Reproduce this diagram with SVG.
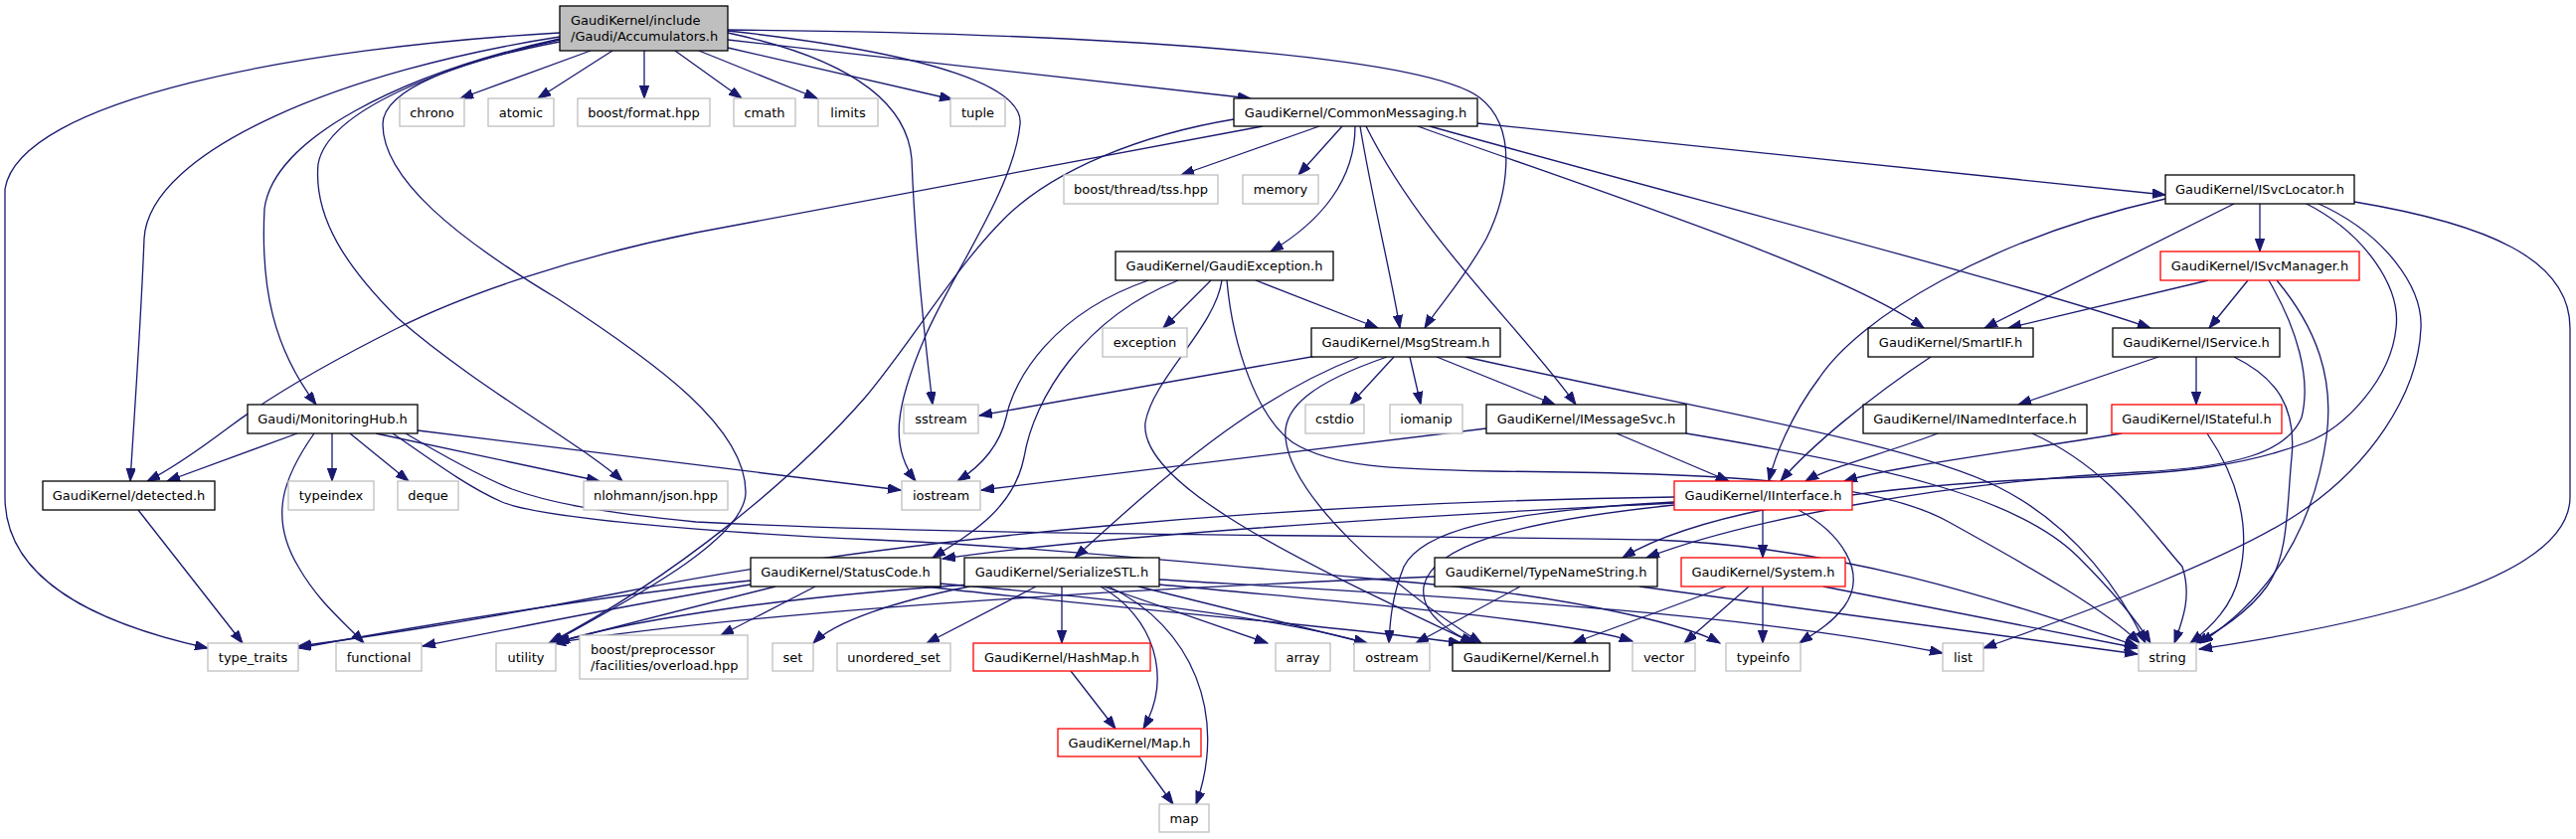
<svg xmlns="http://www.w3.org/2000/svg" width="2591" height="844" viewBox="0 0 2591 844">
<style>
.e{fill:none;stroke:#191970;stroke-width:1.3;marker-end:url(#ah)}
.nk{fill:#fff;stroke:#000;stroke-width:1.3}
.ng{fill:#fff;stroke:#bfbfbf;stroke-width:1.3}
.nr{fill:#fff;stroke:#ff0000;stroke-width:1.3}
.root{fill:#bfbfbf;stroke:#000;stroke-width:1.3}
text{font-family:"DejaVu Sans","Liberation Sans",sans-serif;font-size:13px;fill:#000;text-anchor:middle}
text.l{text-anchor:start}
</style>
<defs>
<marker id="ah" markerUnits="userSpaceOnUse" markerWidth="14" markerHeight="10" refX="13" refY="4.7" orient="auto">
<path d="M0,0 L13,4.7 L0,9.4 z" fill="#191970" stroke="#191970" stroke-width="1"/>
</marker>
</defs>
<rect x="0" y="0" width="2591" height="844" fill="#fff"/>
<g id="edges">
<path class="e" d="M594,51 L463,99"/>
<path class="e" d="M616,51 L541,99"/>
<path class="e" d="M648,51 L648,99"/>
<path class="e" d="M679,51 L746,99"/>
<path class="e" d="M703,51 L822,99"/>
<path class="e" d="M732,48 L958,100"/>
<path class="e" d="M732,40 L1258,99"/>
<path class="e" d="M732,30 C1100,33 1430,55 1488,98 C1530,130 1515,200 1495,240 C1470,285 1445,310 1433,330"/>
<path class="e" d="M732,33 C850,58 912,100 917,160 C920,240 930,340 938,407"/>
<path class="e" d="M732,31 C950,55 1030,90 1026,125 C1020,190 955,280 930,340 C900,410 895,450 921,484"/>
<path class="e" d="M563,42 C460,62 385,90 385,125 C385,180 460,240 560,300 C660,365 750,430 750,495 C750,545 620,610 554,647"/>
<path class="e" d="M563,33 C300,48 20,100 5,190 L5,500 C5,585 100,628 209,652"/>
<path class="e" d="M563,37 C350,70 150,150 145,240 C142,320 135,420 131,484"/>
<path class="e" d="M563,39 C400,75 275,140 266,210 C262,290 275,350 318,407"/>
<path class="e" d="M563,40 C450,65 330,110 320,165 C315,220 350,270 400,320 C480,390 590,450 626,484"/>
<path class="e" d="M1327,127 L1188,176"/>
<path class="e" d="M1350,127 L1306,176"/>
<path class="e" d="M1363,127 C1363,180 1330,222 1278,253"/>
<path class="e" d="M1368,127 C1380,200 1398,270 1408,330"/>
<path class="e" d="M1374,127 C1430,240 1530,330 1585,407"/>
<path class="e" d="M1426,127 C1600,190 1850,270 1935,330"/>
<path class="e" d="M1438,127 C1700,200 2050,290 2163,330"/>
<path class="e" d="M1486,124 L2178,196"/>
<path class="e" d="M1270,127 L700,234 C580,258 470,295 400,330 C320,370 270,400 230,430 C190,460 160,478 148,484"/>
<path class="e" d="M1241,120 C1150,135 1060,170 1010,220 C960,270 920,340 870,400 C800,480 680,580 552,647"/>
<path class="e" d="M2273,205 L2273,253"/>
<path class="e" d="M2247,205 L1996,330"/>
<path class="e" d="M2178,200 C2000,240 1870,320 1830,380 C1800,420 1785,460 1779,484"/>
<path class="e" d="M2318,204 C2380,235 2415,290 2410,330 C2405,380 2360,430 2320,445 C2260,468 2200,475 2100,480 C1850,488 1700,520 1632,561"/>
<path class="e" d="M2330,204 C2400,235 2437,290 2435,330 C2432,400 2380,470 2317,513 C2250,560 2100,615 1995,652"/>
<path class="e" d="M2368,203 C2500,225 2585,260 2585,330 L2585,500 C2585,580 2400,625 2212,653"/>
<path class="e" d="M2221,282 L2020,330"/>
<path class="e" d="M2261,282 L2222,330"/>
<path class="e" d="M2282,282 C2310,330 2325,380 2315,420 C2300,455 2250,470 2150,475 C1950,485 1750,525 1656,561"/>
<path class="e" d="M2290,282 C2330,330 2348,380 2340,440 C2330,510 2300,590 2213,647"/>
<path class="e" d="M2171,359 L2030,407"/>
<path class="e" d="M2209,359 L2209,407"/>
<path class="e" d="M2247,359 C2290,380 2310,410 2305,460 C2300,510 2302,560 2280,590 C2262,615 2232,635 2208,647"/>
<path class="e" d="M1949,436 C1900,455 1840,470 1816,484"/>
<path class="e" d="M2044,436 C2120,470 2160,530 2195,570 C2205,600 2195,625 2187,647"/>
<path class="e" d="M2134,436 C2020,455 1900,470 1855,484"/>
<path class="e" d="M2220,436 C2250,480 2265,530 2252,580 C2245,610 2225,630 2203,647"/>
<path class="e" d="M1942,359 C1880,400 1820,450 1791,484"/>
<path class="e" d="M1495,431 L987,493"/>
<path class="e" d="M1626,436 L1739,484"/>
<path class="e" d="M1696,436 C1900,470 2030,500 2090,560 C2125,595 2150,625 2163,647"/>
<path class="e" d="M1330,357 L985,418"/>
<path class="e" d="M1367,359 C1260,400 1170,480 1081,561"/>
<path class="e" d="M1402,359 L1358,407"/>
<path class="e" d="M1418,359 L1429,407"/>
<path class="e" d="M1445,359 L1564,407"/>
<path class="e" d="M1474,359 C1700,410 1920,445 2010,490 C2090,530 2135,600 2158,647"/>
<path class="e" d="M1395,359 C1320,385 1290,410 1293,440 C1298,500 1400,590 1490,647"/>
<path class="e" d="M1155,282 C1060,315 1020,380 1012,420 C1005,450 985,470 963,484"/>
<path class="e" d="M1185,282 C1090,320 1040,400 1030,460 C1020,510 980,535 938,561"/>
<path class="e" d="M1218,282 L1170,330"/>
<path class="e" d="M1229,282 C1222,330 1160,380 1152,425 C1145,490 1320,570 1482,647"/>
<path class="e" d="M1234,282 C1240,350 1265,420 1300,445 C1340,470 1400,472 1500,474 C1700,476 1880,480 1960,525 C2050,575 2120,615 2152,647"/>
<path class="e" d="M1263,282 L1386,330"/>
<path class="e" d="M1773,513 L1773,561"/>
<path class="e" d="M1684,506 C1400,520 1100,540 948,562"/>
<path class="e" d="M1684,500 C1300,505 900,540 620,597 C460,628 340,645 300,650"/>
<path class="e" d="M1684,505 C1500,515 1430,535 1412,570 C1400,600 1398,625 1397,647"/>
<path class="e" d="M1684,508 C1520,525 1440,550 1432,590 C1428,620 1465,640 1485,647"/>
<path class="e" d="M1809,513 C1850,535 1880,575 1855,610 C1840,630 1820,640 1810,647"/>
<path class="e" d="M1736,590 L1582,647"/>
<path class="e" d="M1759,590 L1694,647"/>
<path class="e" d="M1773,590 L1773,647"/>
<path class="e" d="M1834,590 L2150,652"/>
<path class="e" d="M1529,590 L1424,647"/>
<path class="e" d="M1649,590 L2150,658"/>
<path class="e" d="M1443,580 C1200,590 800,610 556,647"/>
<path class="e" d="M755,584 C600,600 420,630 300,652"/>
<path class="e" d="M755,588 C650,605 500,635 425,650"/>
<path class="e" d="M780,590 C700,610 620,630 558,647"/>
<path class="e" d="M820,590 L725,639"/>
<path class="e" d="M945,587 C1100,600 1280,620 1375,647"/>
<path class="e" d="M930,590 C1100,610 1350,630 1470,647"/>
<path class="e" d="M975,590 C900,605 840,625 818,647"/>
<path class="e" d="M1042,590 L932,647"/>
<path class="e" d="M1068,590 L1068,647"/>
<path class="e" d="M1107,590 C1160,620 1180,680 1150,733"/>
<path class="e" d="M1115,590 C1200,630 1235,720 1203,809"/>
<path class="e" d="M1110,590 L1275,647"/>
<path class="e" d="M1145,590 L1375,647"/>
<path class="e" d="M1166,583 C1450,600 1750,615 1954,657"/>
<path class="e" d="M1166,588 C1400,610 1580,625 1642,645"/>
<path class="e" d="M975,588 C800,600 650,620 560,646"/>
<path class="e" d="M1077,675 L1122,733"/>
<path class="e" d="M1145,761 L1180,809"/>
<path class="e" d="M139,513 L244,647"/>
<path class="e" d="M299,436 L168,484"/>
<path class="e" d="M334,436 L334,484"/>
<path class="e" d="M352,436 L411,484"/>
<path class="e" d="M378,436 L603,484"/>
<path class="e" d="M316,436 C285,480 270,520 300,570 C320,605 345,625 366,647"/>
<path class="e" d="M420,433 L906,493"/>
<path class="e" d="M408,436 C440,455 480,478 515,492 C550,505 600,515 700,525 C1000,540 1400,538 1664,543 C1850,550 2000,600 2150,650"/>
<path class="e" d="M395,436 C430,460 470,490 505,505 C540,520 700,535 880,543 C1050,550 1300,575 1464,590 C1600,605 1700,630 1730,647"/>
</g>
<g id="n-acc"><rect class="root" x="563" y="6" width="169" height="45"/><text class="l" x="574" y="25">GaudiKernel/include</text><text class="l" x="574" y="41">/Gaudi/Accumulators.h</text></g>
<g id="n-chrono"><rect class="ng" x="402" y="99" width="65" height="28"/><text x="434.5" y="117.6">chrono</text></g>
<g id="n-atomic"><rect class="ng" x="491" y="99" width="66" height="28"/><text x="524" y="117.6">atomic</text></g>
<g id="n-bformat"><rect class="ng" x="581" y="99" width="133" height="28"/><text x="647.5" y="117.6">boost/format.hpp</text></g>
<g id="n-cmath"><rect class="ng" x="738" y="99" width="62" height="28"/><text x="769" y="117.6">cmath</text></g>
<g id="n-limits"><rect class="ng" x="823" y="99" width="60" height="28"/><text x="853" y="117.6">limits</text></g>
<g id="n-tuple"><rect class="ng" x="956" y="99" width="55" height="28"/><text x="983.5" y="117.6">tuple</text></g>
<g id="n-commsg"><rect class="nk" x="1241" y="99" width="245" height="28"/><text x="1363.5" y="117.6">GaudiKernel/CommonMessaging.h</text></g>
<g id="n-tss"><rect class="ng" x="1070" y="176" width="155" height="29"/><text x="1147.5" y="195">boost/thread/tss.hpp</text></g>
<g id="n-memory"><rect class="ng" x="1250" y="176" width="76" height="29"/><text x="1288" y="195">memory</text></g>
<g id="n-isvcloc"><rect class="nk" x="2178" y="176" width="190" height="29"/><text x="2273" y="195">GaudiKernel/ISvcLocator.h</text></g>
<g id="n-gexc"><rect class="nk" x="1122" y="253" width="219" height="29"/><text x="1231.5" y="272">GaudiKernel/GaudiException.h</text></g>
<g id="n-isvcmgr"><rect class="nr" x="2173" y="253" width="200" height="29"/><text x="2273" y="272">GaudiKernel/ISvcManager.h</text></g>
<g id="n-msgstream"><rect class="nk" x="1319" y="330" width="190" height="29"/><text x="1414" y="349">GaudiKernel/MsgStream.h</text></g>
<g id="n-exception"><rect class="ng" x="1109" y="330" width="85" height="29"/><text x="1151.5" y="349">exception</text></g>
<g id="n-smartif"><rect class="nk" x="1879" y="330" width="166" height="29"/><text x="1962" y="349">GaudiKernel/SmartIF.h</text></g>
<g id="n-iservice"><rect class="nk" x="2125" y="330" width="168" height="29"/><text x="2209" y="349">GaudiKernel/IService.h</text></g>
<g id="n-monhub"><rect class="nk" x="249" y="407" width="171" height="29"/><text x="334.5" y="426">Gaudi/MonitoringHub.h</text></g>
<g id="n-sstream"><rect class="ng" x="909" y="407" width="75" height="29"/><text x="946.5" y="426">sstream</text></g>
<g id="n-cstdio"><rect class="ng" x="1313" y="407" width="59" height="29"/><text x="1342.5" y="426">cstdio</text></g>
<g id="n-iomanip"><rect class="ng" x="1398" y="407" width="73" height="29"/><text x="1434.5" y="426">iomanip</text></g>
<g id="n-imsgsvc"><rect class="nk" x="1495" y="407" width="201" height="29"/><text x="1595.5" y="426">GaudiKernel/IMessageSvc.h</text></g>
<g id="n-inamed"><rect class="nk" x="1874" y="407" width="225" height="29"/><text x="1986.5" y="426">GaudiKernel/INamedInterface.h</text></g>
<g id="n-istateful"><rect class="nr" x="2124" y="407" width="171" height="29"/><text x="2209.5" y="426">GaudiKernel/IStateful.h</text></g>
<g id="n-detected"><rect class="nk" x="43" y="484" width="173" height="29"/><text x="129.5" y="503">GaudiKernel/detected.h</text></g>
<g id="n-typeindex"><rect class="ng" x="290" y="484" width="86" height="29"/><text x="333" y="503">typeindex</text></g>
<g id="n-deque"><rect class="ng" x="400" y="484" width="61" height="29"/><text x="430.5" y="503">deque</text></g>
<g id="n-nlohmann"><rect class="ng" x="587" y="484" width="145" height="29"/><text x="659.5" y="503">nlohmann/json.hpp</text></g>
<g id="n-iostream"><rect class="ng" x="907" y="484" width="79" height="29"/><text x="946.5" y="503">iostream</text></g>
<g id="n-iinterface"><rect class="nr" x="1684" y="484" width="179" height="29"/><text x="1773.5" y="503">GaudiKernel/IInterface.h</text></g>
<g id="n-statuscode"><rect class="nk" x="755" y="561" width="191" height="29"/><text x="850.5" y="580">GaudiKernel/StatusCode.h</text></g>
<g id="n-serialize"><rect class="nk" x="970" y="561" width="196" height="29"/><text x="1068" y="580">GaudiKernel/SerializeSTL.h</text></g>
<g id="n-typename"><rect class="nk" x="1443" y="561" width="224" height="29"/><text x="1555" y="580">GaudiKernel/TypeNameString.h</text></g>
<g id="n-system"><rect class="nr" x="1691" y="561" width="165" height="29"/><text x="1773.5" y="580">GaudiKernel/System.h</text></g>
<g id="n-typetraits"><rect class="ng" x="209" y="647" width="91" height="28"/><text x="254.5" y="665.6">type_traits</text></g>
<g id="n-functional"><rect class="ng" x="338" y="647" width="86" height="28"/><text x="381" y="665.6">functional</text></g>
<g id="n-utility"><rect class="ng" x="499" y="647" width="60" height="28"/><text x="529" y="665.6">utility</text></g>
<g id="n-boostpp"><rect class="ng" x="583" y="639" width="169" height="44"/><text class="l" x="594" y="657.5">boost/preprocessor</text><text class="l" x="594" y="674">/facilities/overload.hpp</text></g>
<g id="n-set"><rect class="ng" x="777" y="647" width="41" height="28"/><text x="797.5" y="665.6">set</text></g>
<g id="n-uset"><rect class="ng" x="842" y="647" width="114" height="28"/><text x="899" y="665.6">unordered_set</text></g>
<g id="n-hashmap"><rect class="nr" x="979" y="647" width="178" height="28"/><text x="1068" y="665.6">GaudiKernel/HashMap.h</text></g>
<g id="n-array"><rect class="ng" x="1283" y="647" width="55" height="28"/><text x="1310.5" y="665.6">array</text></g>
<g id="n-ostream"><rect class="ng" x="1362" y="647" width="76" height="28"/><text x="1400" y="665.6">ostream</text></g>
<g id="n-kernel"><rect class="nk" x="1461" y="647" width="158" height="28"/><text x="1540" y="665.6">GaudiKernel/Kernel.h</text></g>
<g id="n-vector"><rect class="ng" x="1642" y="647" width="63" height="28"/><text x="1673.5" y="665.6">vector</text></g>
<g id="n-typeinfo"><rect class="ng" x="1736" y="647" width="75" height="28"/><text x="1773.5" y="665.6">typeinfo</text></g>
<g id="n-list"><rect class="ng" x="1954" y="647" width="41" height="28"/><text x="1974.5" y="665.6">list</text></g>
<g id="n-string"><rect class="ng" x="2151" y="647" width="58" height="28"/><text x="2180" y="665.6">string</text></g>
<g id="n-maph"><rect class="nr" x="1064" y="733" width="144" height="28"/><text x="1136" y="751.6">GaudiKernel/Map.h</text></g>
<g id="n-map"><rect class="ng" x="1166" y="809" width="50" height="28"/><text x="1191" y="827.6">map</text></g>
</svg>
